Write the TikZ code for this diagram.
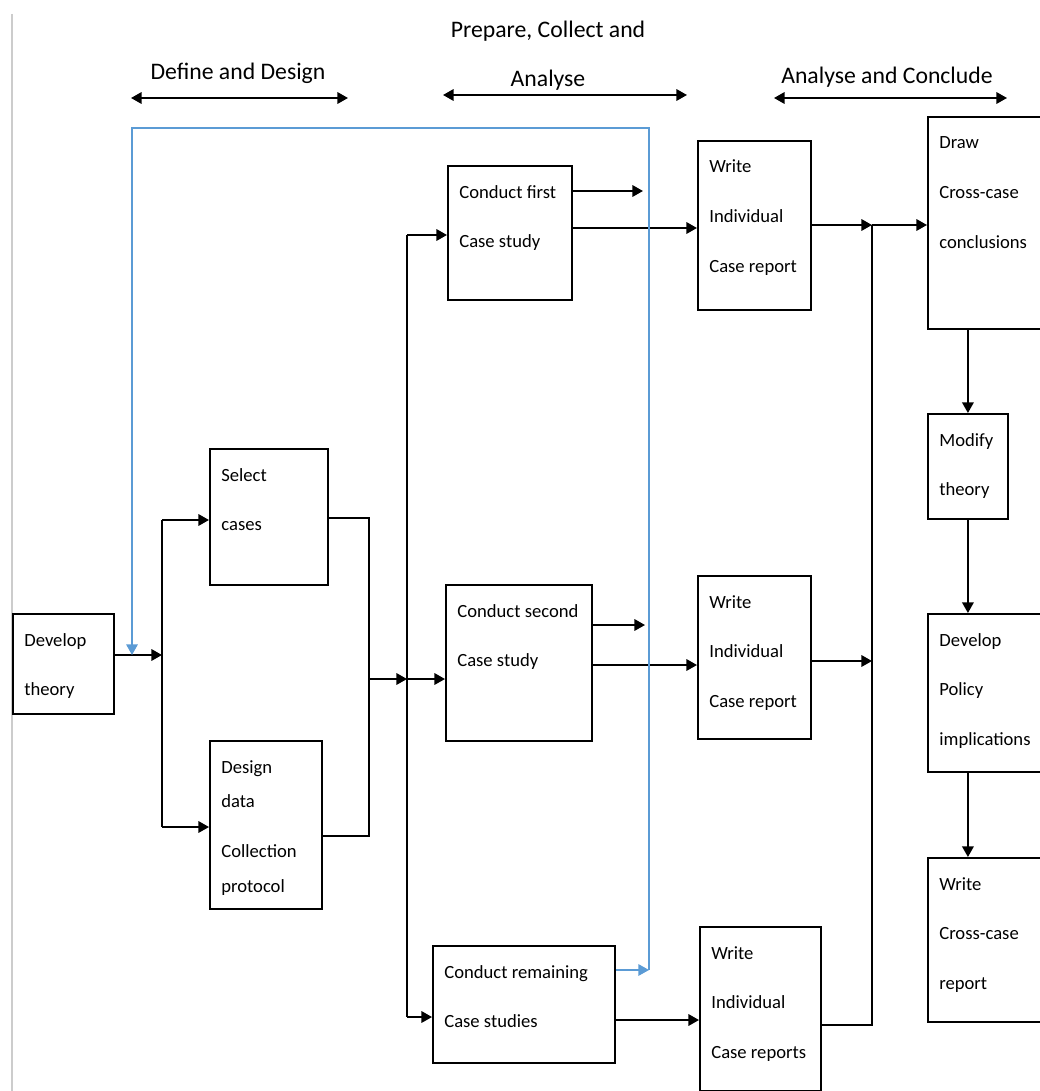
\documentclass[tikz,border=0pt]{standalone}
\usepackage{fontspec}
\setmainfont{Carlito}
\usetikzlibrary{arrows.meta}

\definecolor{fbblue}{RGB}{91,155,213}

\tikzset{
    stagebox/.style={draw, line width=1.05pt, anchor=north west, inner sep=0pt},
    stagetext/.style={anchor=base west, inner sep=0pt, font=\fontsize{10.6}{28.45}\selectfont},
    phase/.style={inner sep=0pt, font=\fontsize{13.5}{27.8}\selectfont, align=center},
    wire/.style={line width=1.05pt},
    flow/.style={wire, -{Triangle[length=6pt,width=6.5pt]}},
    feedback/.style={line width=0.85pt, draw=fbblue, -{Triangle[length=6pt,width=6.5pt]}},
    span/.style={wire, {Triangle[length=6pt,width=6.5pt]}-{Triangle[length=6pt,width=6.5pt]}},
}

% box with its text lines
\newcommand{\stage}[6]{%
    \node[stagebox, minimum width=#4*0.02cm, minimum height=#5*0.02cm] (#1) at (#2,#3) {};
    \node[stagetext] (#1-t) at ([shift={(12,33)}]#1.north west) {\parbox[t]{5cm}{\raggedright #6}};
}

\begin{document}
\begin{tikzpicture}[x=0.02cm, y=-0.02cm]
    \useasboundingbox (0,0) rectangle (1040,1091);
    \draw[gray!40, line width=0.8pt] (12,14) -- (12,1091);

    % phases
    \node[phase] (define) at (238,73) {Define and Design};
    \node[phase] (prepare) at (548,56) {Prepare, Collect and\\Analyse};
    \node[phase] (conclude) at (887,77) {Analyse and Conclude};
    \draw[span] (131,98) -- (348,98);
    \draw[span] (443,95) -- (687,95);
    \draw[span] (774,98) -- (1007,98);

    % boxes
    \stage{theory}{12}{613}{101}{100}{Develop\\theory}
    \stage{select}{209}{448}{118}{136}{Select\\cases}
    \stage{design}{209}{740}{112}{168}{Design\\[-9pt]data\\Collection\\[-8.5pt]protocol}
    \stage{first}{447}{165}{124}{134}{Conduct first\\Case study}
    \stage{second}{445}{584}{146}{156}{Conduct second\\Case study}
    \stage{remaining}{432}{945}{182}{117}{Conduct remaining\\Case studies}
    \stage{write1}{697}{140}{113}{169}{Write\\Individual\\Case report}
    \stage{write2}{697}{575}{113}{163}{Write\\Individual\\Case report}
    \stage{write3}{699}{926}{121}{164}{Write\\Individual\\Case reports}
    \stage{drawcc}{927}{116}{125}{212}{Draw\\Cross-case\\conclusions}
    \stage{modify}{927}{413}{80}{105}{Modify\\theory}
    \stage{policy}{927}{613}{125}{158}{Develop\\Policy\\implications}
    \stage{report}{927}{857}{125}{164}{Write\\Cross-case\\report}

    % define and design
    \coordinate (splitA) at (162,655);
    \coordinate (splitA1) at (162,520);
    \coordinate (splitA2) at (162,827);
    \draw[flow] (theory.east |- splitA) -- (splitA);
    \draw[wire] (splitA1) -- (splitA2);
    \draw[flow] (splitA1) -- (select.west |- splitA1);
    \draw[flow] (splitA2) -- (design.west |- splitA2);

    \coordinate (mergeB1) at (369,518);
    \coordinate (mergeB2) at (369,836);
    \coordinate (mergeB) at (369,679);
    \coordinate (splitB) at (407,679);
    \draw[wire] (select.east |- mergeB1) -- (mergeB1) -- (mergeB2) -- (design.east |- mergeB2);
    \draw[flow] (mergeB) -- (splitB);

    % prepare, collect and analyse
    \coordinate (splitB1) at (407,235);
    \coordinate (splitB2) at (407,1017);
    \draw[wire] (splitB1) -- (splitB2);
    \draw[flow] (splitB1) -- (first.west |- splitB1);
    \draw[flow] (splitB) -- (second.west |- splitB);
    \draw[flow] (splitB2) -- (remaining.west |- splitB2);

    \coordinate (out1) at (643,191);
    \coordinate (out2) at (645,625);
    \coordinate (row1) at (0,228);
    \coordinate (row2) at (0,665);
    \coordinate (row3) at (0,1020);
    \draw[flow] (first.east |- out1) -- (out1);
    \draw[flow] (first.east |- row1) -- (write1.west |- row1);
    \draw[flow] (second.east |- out2) -- (out2);
    \draw[flow] (second.east |- row2) -- (write2.west |- row2);
    \draw[flow] (remaining.east |- row3) -- (write3.west |- row3);

    % feedback to theory
    \coordinate (back1) at (649,970);
    \coordinate (back2) at (649,128);
    \coordinate (back3) at (132,128);
    \coordinate (back4) at (132,655);
    \draw[feedback] (remaining.east |- back1) -- (back1);
    \draw[feedback] (back1) -- (back2) -- (back3) -- (back4);

    % analyse and conclude
    \coordinate (mergeC) at (872,225);
    \coordinate (mergeC2) at (872,661);
    \coordinate (mergeC3) at (872,1025);
    \draw[flow] (write1.east |- mergeC) -- (mergeC);
    \draw[flow] (mergeC) -- (drawcc.west |- mergeC);
    \draw[flow] (write2.east |- mergeC2) -- (mergeC2);
    \draw[wire] (write3.east |- mergeC3) -- (mergeC3) -- (mergeC);

    \draw[flow] (modify.north |- drawcc.south) -- (modify.north);
    \draw[flow] (modify.south) -- (modify.south |- policy.north);
    \draw[flow] (modify.south |- policy.south) -- (modify.south |- report.north);
\end{tikzpicture}
\end{document}
